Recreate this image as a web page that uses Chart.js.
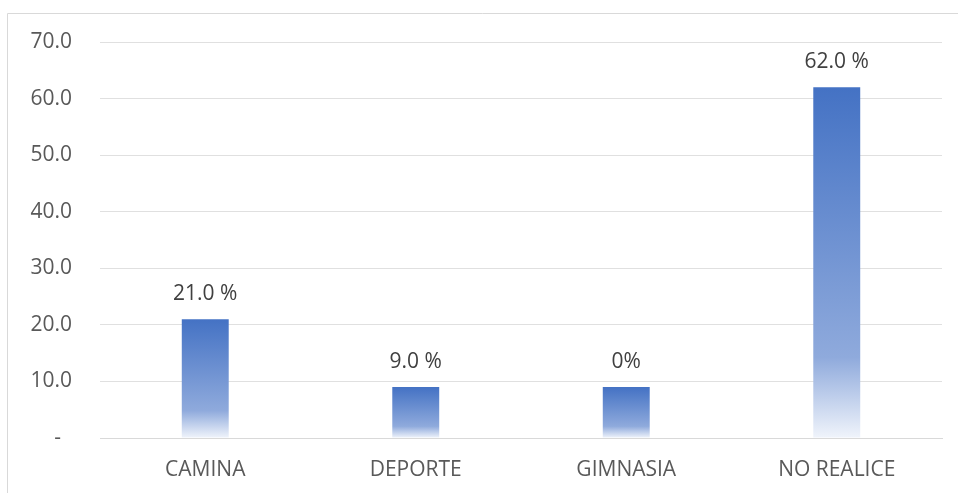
<!DOCTYPE html>
<html lang="es">
<head>
    <meta charset="UTF-8">
    <title>Actividad física</title>
    <script src="https://cdn.jsdelivr.net/npm/chart.js"></script>
    <style>
        body {
            margin: 0;
            background: white;
        }
        #chart-container {
            width: 958px;
            height: 493px;
        }
    </style>
</head>
<body>
    <div id="chart-container">
        <canvas id="chart" width="958" height="493"></canvas>
    </div>

    <script>
        const categories = ['CAMINA', 'DEPORTE', 'GIMNASIA', 'NO REALICE'];
        const values = [21.0, 9.0, 9.0, 62.0];
        const barLabels = ['21.0 %', '9.0 %', '0%', '62.0 %'];
        const yTicks = [0, 10, 20, 30, 40, 50, 60, 70];

        const FONT = "'Open Sans', 'Liberation Sans', sans-serif";

        // Excel-like vertical gradient, one per bar (top blue -> bottom almost white)
        function barGradient(context) {
            const chart = context.chart;
            const yScale = chart.scales.y;
            if (!chart.chartArea || !yScale || context.raw == null) return '#4472C4';
            const top = yScale.getPixelForValue(context.raw);
            const bottom = yScale.getPixelForValue(0);
            if (!isFinite(top) || !isFinite(bottom) || bottom - top < 1) return '#4472C4';
            const g = chart.ctx.createLinearGradient(0, top, 0, bottom);
            g.addColorStop(0, '#4472C4');
            g.addColorStop(0.77, '#8FAADC');
            g.addColorStop(1, '#F0F4FB');
            return g;
        }

        // Value labels above the bars + the frame (top and left lines)
        const extras = {
            id: 'extras',
            beforeDraw(chart) {
                const ctx = chart.ctx;
                ctx.save();
                ctx.strokeStyle = '#D9D9D9';
                ctx.lineWidth = 1;
                ctx.beginPath();
                ctx.moveTo(7.5, 493);
                ctx.lineTo(7.5, 13.5);
                ctx.lineTo(958, 13.5);
                ctx.stroke();
                ctx.restore();
            },
            afterDatasetsDraw(chart) {
                const ctx = chart.ctx;
                const meta = chart.getDatasetMeta(0);
                ctx.save();
                ctx.font = '21px ' + FONT;
                ctx.fillStyle = '#404040';
                ctx.textAlign = 'center';
                ctx.textBaseline = 'middle';
                meta.data.forEach((bar, i) => {
                    ctx.fillText(barLabels[i], bar.x, bar.y - 25);
                });
                ctx.restore();
            }
        };

        const ctx = document.getElementById('chart').getContext('2d');
        const chart = new Chart(ctx, {
            type: 'bar',
            data: {
                labels: categories,
                datasets: [{
                    data: values,
                    backgroundColor: barGradient,
                    borderWidth: 0,
                    categoryPercentage: 1,
                    barPercentage: 0.223
                }]
            },
            options: {
                responsive: false,
                animation: false,
                layout: {
                    padding: { top: 42, right: 16, bottom: 0, left: 0 }
                },
                plugins: {
                    legend: { display: false },
                    tooltip: { enabled: false }
                },
                scales: {
                    x: {
                        grid: { display: false, drawTicks: false },
                        border: { display: true, color: '#D9D9D9', width: 1 },
                        ticks: {
                            color: '#595959',
                            font: { family: FONT, size: 21 },
                            padding: 19,
                            maxRotation: 0
                        },
                        afterFit(scale) { scale.height = 55; }
                    },
                    y: {
                        min: 0,
                        max: 70,
                        grid: { color: '#E0E0E0', lineWidth: 1, drawTicks: false },
                        border: { display: false },
                        afterBuildTicks(scale) {
                            scale.ticks = yTicks.map(v => ({ value: v }));
                        },
                        ticks: {
                            color: '#595959',
                            font: { family: FONT, size: 21 },
                            padding: 28,
                            callback: v => v === 0 ? '-  ' : v.toFixed(1)
                        },
                        afterFit(scale) { scale.width = 100; }
                    }
                }
            },
            plugins: [extras]
        });
    </script>
</body>
</html>
